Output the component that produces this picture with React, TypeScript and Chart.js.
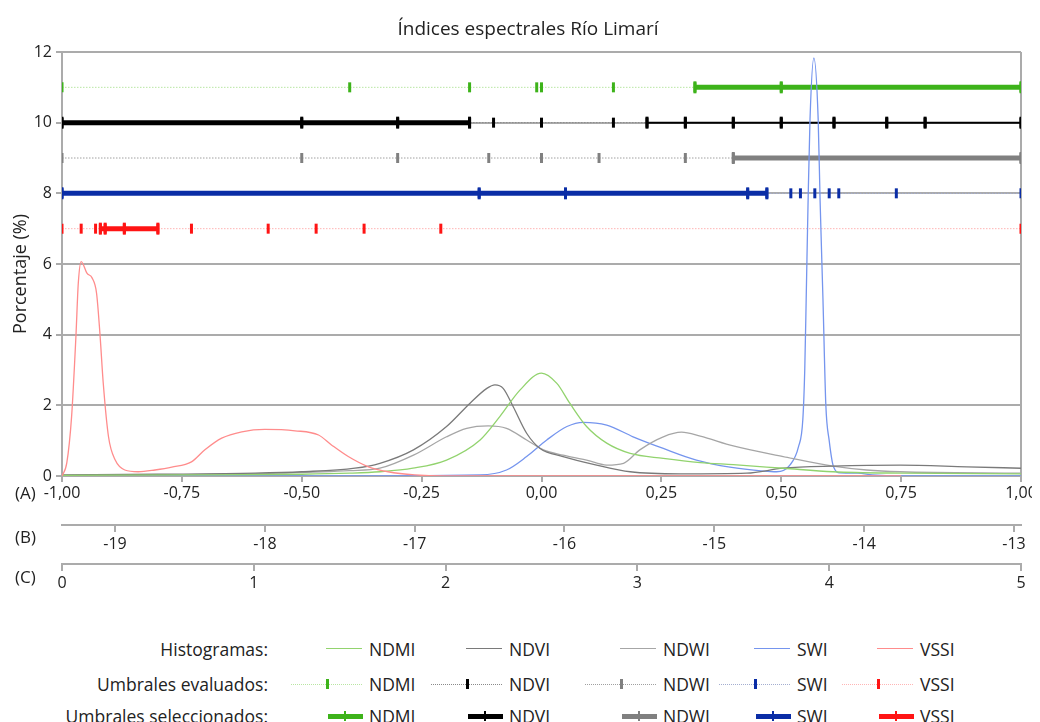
import React, { useEffect, useRef } from 'react';
import { Chart, registerables } from 'chart.js';

Chart.register(...registerables);

const FONT = "'Open Sans', sans-serif";
const TEXT = '#222222';
const GRID = '#ababab';

// ---------- Title / axis texts ----------
const chartTitle = 'Índices espectrales Río Limarí';
const yTitle = 'Porcentaje (%)';
const axisNames = ['(A)', '(B)', '(C)'];

// ---------- Axis ranges ----------
const axisAMin = -1;
const axisAMax = 1;
const axisAStep = 0.25;
const axisBMin = -19.354;
const axisBMax = -12.953;
const axisBStep = 1;
const axisCMin = 0;
const axisCMax = 5;
const axisCStep = 1;
const yMin = 0;
const yMax = 12;
const yStep = 2;

// ---------- Histograms ----------
const ndmiX = [-1.0, -0.75, -0.5, -0.4, -0.337, -0.268, -0.198, -0.128, -0.087, -0.045, 0.0, 0.032, 0.059, 0.094, 0.136, 0.185, 0.254, 0.331, 0.4, 0.504, 0.608, 0.748, 1.0];
const ndmiY = [0.02, 0.03, 0.05, 0.08, 0.12, 0.22, 0.45, 1.02, 1.68, 2.43, 2.91, 2.62, 2.06, 1.4, 0.93, 0.64, 0.5, 0.38, 0.32, 0.22, 0.12, 0.08, 0.06];

const ndviX = [-1.0, -0.8, -0.597, -0.5, -0.389, -0.337, -0.267, -0.198, -0.149, -0.114, -0.097, -0.08, -0.059, -0.031, -0.003, 0.045, 0.115, 0.185, 0.289, 0.428, 0.504, 0.608, 0.748, 0.887, 1.0];
const ndviY = [0.03, 0.05, 0.08, 0.12, 0.22, 0.36, 0.74, 1.4, 2.06, 2.48, 2.58, 2.48, 1.96, 1.21, 0.78, 0.55, 0.31, 0.12, 0.06, 0.08, 0.22, 0.28, 0.31, 0.26, 0.22];

const ndwiX = [-1.0, -0.75, -0.55, -0.4, -0.337, -0.267, -0.198, -0.156, -0.111, -0.073, -0.031, 0.004, 0.045, 0.094, 0.136, 0.171, 0.205, 0.254, 0.292, 0.331, 0.4, 0.504, 0.608, 0.678, 0.748, 1.0];
const ndwiY = [0.02, 0.04, 0.08, 0.15, 0.22, 0.59, 1.11, 1.35, 1.42, 1.35, 1.02, 0.74, 0.59, 0.45, 0.31, 0.36, 0.74, 1.11, 1.24, 1.13, 0.85, 0.55, 0.28, 0.17, 0.12, 0.08];

const swiX = [-1.0, -0.5, -0.128, -0.073, -0.031, 0.011, 0.053, 0.087, 0.136, 0.191, 0.254, 0.323, 0.393, 0.463, 0.49, 0.518, 0.536, 0.545, 0.549, 0.552, 0.556, 0.56, 0.568, 0.577, 0.581, 0.587, 0.593, 0.6, 0.609, 0.623, 0.66, 0.69, 0.75, 1.0];
const swiY = [0.0, 0.0, 0.03, 0.17, 0.55, 1.02, 1.4, 1.52, 1.44, 1.11, 0.78, 0.45, 0.25, 0.14, 0.12, 0.31, 0.83, 1.6, 3.0, 5.0, 7.8, 10.1, 11.83, 10.1, 7.8, 5.0, 2.0, 1.0, 0.26, 0.09, 0.08, 0.03, 0.0, 0.0];

const vssiX = [-1.0, -0.99, -0.98, -0.971, -0.966, -0.96, -0.948, -0.937, -0.928, -0.921, -0.914, -0.903, -0.889, -0.869, -0.841, -0.806, -0.771, -0.73, -0.702, -0.667, -0.625, -0.577, -0.514, -0.465, -0.438, -0.403, -0.361, -0.32, -0.264, -0.2, 0.0, 0.25, 0.5, 0.75];
const vssiY = [0.0, 0.37, 1.68, 3.94, 5.46, 6.07, 5.74, 5.6, 5.18, 4.05, 2.63, 1.11, 0.45, 0.17, 0.12, 0.17, 0.25, 0.4, 0.74, 1.07, 1.25, 1.32, 1.28, 1.16, 0.88, 0.55, 0.26, 0.12, 0.03, 0.0, 0.0, 0.0, 0.0, 0.0];

// ---------- Thresholds (row levels on the y axis) ----------
const rowNDMI = 11;
const rowNDVI = 10;
const rowNDWI = 9;
const rowSWI = 8;
const rowVSSI = 7;

const ndmiEvaluated = [-1.0, -0.4, -0.15, -0.01, 0.0, 0.15, 0.32, 0.5, 1.0];
const ndmiSelected = [0.32, 0.5, 1.0];

const ndviEvaluated = [-1.0, -0.5, -0.3, -0.15, -0.1, 0.0, 0.15, 0.22, 0.3, 0.4, 0.5, 0.61, 0.72, 0.8, 1.0];
const ndviSelected = [-1.0, -0.5, -0.3, -0.15];
const ndviUpperRange = [0.22, 0.3, 0.4, 0.5, 0.61, 0.72, 0.8, 1.0];

const ndwiEvaluated = [-1.0, -0.5, -0.3, -0.11, 0.0, 0.12, 0.3, 0.4, 1.0];
const ndwiSelected = [0.4, 1.0];

const swiEvaluated = [-1.0, -0.13, 0.05, 0.43, 0.47, 0.52, 0.54, 0.57, 0.6, 0.62, 0.74, 1.0];
const swiSelected = [-1.0, -0.13, 0.05, 0.43, 0.47];

const vssiEvaluated = [-1.0, -0.96, -0.93, -0.92, -0.91, -0.87, -0.8, -0.73, -0.57, -0.47, -0.37, -0.21, 1.0];
const vssiSelected = [-0.92, -0.91, -0.87, -0.8];

// ---------- Styles ----------
const seriesNames = ['NDMI', 'NDVI', 'NDWI', 'SWI', 'VSSI'];
const histColors = ['#92d36e', '#7a7a7a', '#a6a6a6', '#7595ee', '#ff8c8c'];
const evalLineColors = ['#b9e6a3', '#8a8a8a', '#a0a0a0', '#a4aed0', '#ffb5b5'];
const tickColors = ['#3db31a', '#000000', '#808080', '#0a2da6', '#ff1414'];
const legendRowLabels = ['Histogramas:', 'Umbrales evaluados:', 'Umbrales seleccionados:'];

const pts = (xs: number[], ys: number[]) => xs.map((x, i) => ({ x, y: ys[i] }));
const row = (xs: number[], y: number) => xs.map((x) => ({ x, y }));

function histDs(label: string, xs: number[], ys: number[], color: string) {
  return {
    label,
    data: pts(xs, ys),
    borderColor: color,
    backgroundColor: color,
    borderWidth: 1.3,
    pointRadius: 0,
    pointHoverRadius: 0,
    cubicInterpolationMode: 'monotone',
    tension: 0.4,
    fill: false,
  };
}

function evalDs(label: string, xs: number[], y: number, lineColor: string, tickColor: string) {
  return {
    label,
    data: row(xs, y),
    borderColor: lineColor,
    borderWidth: 1,
    borderDash: [1.5, 1.5],
    pointStyle: 'line',
    pointRotation: 90,
    pointRadius: 5,
    pointHoverRadius: 5,
    pointBorderWidth: 3,
    pointBorderColor: tickColor,
    pointBackgroundColor: tickColor,
    tension: 0,
    fill: false,
  };
}

function selDs(label: string, xs: number[], y: number, color: string, width = 5) {
  return {
    label,
    data: row(xs, y),
    borderColor: color,
    borderWidth: width,
    pointStyle: 'line',
    pointRotation: 90,
    pointRadius: 6,
    pointHoverRadius: 6,
    pointBorderWidth: 3,
    pointBorderColor: color,
    pointBackgroundColor: color,
    tension: 0,
    fill: false,
  };
}

const framePlugin = {
  id: 'frameAndTexts',
  beforeDatasetsDraw(chart: any) {
    const { ctx, chartArea } = chart;
    ctx.save();
    ctx.strokeStyle = GRID;
    ctx.lineWidth = 2;
    ctx.beginPath();
    ctx.moveTo(chartArea.right, chartArea.top);
    ctx.lineTo(chartArea.right, chartArea.bottom);
    ctx.stroke();
    ctx.restore();
  },
  afterDraw(chart: any) {
    const { ctx, chartArea } = chart;
    ctx.save();
    ctx.fillStyle = TEXT;
    ctx.textBaseline = 'middle';
    // chart title
    ctx.font = `19px ${FONT}`;
    ctx.textAlign = 'center';
    ctx.fillText(chartTitle, 520, 21.5);
    // y axis title
    ctx.save();
    ctx.font = `18px ${FONT}`;
    ctx.translate(12.5, (chartArea.top + chartArea.bottom) / 2 + 10);
    ctx.rotate(-Math.PI / 2);
    ctx.fillText(yTitle, 0, 0);
    ctx.restore();
    // axis names
    ctx.font = `17px ${FONT}`;
    ctx.textAlign = 'left';
    ctx.fillText(axisNames[0], 7, chart.scales.x.top + 18);
    ctx.fillText(axisNames[1], 7, chart.scales.xB.top + 13);
    ctx.fillText(axisNames[2], 7, chart.scales.xC.top + 14);
    ctx.restore();
  },
};

function ChartCanvas() {
  const ref = useRef<HTMLCanvasElement | null>(null);
  useEffect(() => {
    if (!ref.current) return;
    const tickFont = { family: FONT, size: 16 };
    const chart = new Chart(ref.current, {
      type: 'line',
      data: {
        datasets: [
          histDs('VSSI', vssiX, vssiY, histColors[4]),
          histDs('NDMI', ndmiX, ndmiY, histColors[0]),
          histDs('NDVI', ndviX, ndviY, histColors[1]),
          histDs('NDWI', ndwiX, ndwiY, histColors[2]),
          histDs('SWI', swiX, swiY, histColors[3]),
          selDs('NDMI sel', ndmiSelected, rowNDMI, tickColors[0]),
          selDs('NDVI sel', ndviSelected, rowNDVI, tickColors[1]),
          selDs('NDVI upper', ndviUpperRange, rowNDVI, tickColors[1], 2),
          selDs('NDWI sel', ndwiSelected, rowNDWI, tickColors[2]),
          selDs('SWI sel', swiSelected, rowSWI, tickColors[3]),
          selDs('VSSI sel', vssiSelected, rowVSSI, tickColors[4]),
          evalDs('NDMI eval', ndmiEvaluated, rowNDMI, evalLineColors[0], tickColors[0]),
          evalDs('NDVI eval', ndviEvaluated, rowNDVI, evalLineColors[1], tickColors[1]),
          evalDs('NDWI eval', ndwiEvaluated, rowNDWI, evalLineColors[2], tickColors[2]),
          evalDs('SWI eval', swiEvaluated, rowSWI, evalLineColors[3], tickColors[3]),
          evalDs('VSSI eval', vssiEvaluated, rowVSSI, evalLineColors[4], tickColors[4]),
        ] as any,
      },
      options: {
        animation: false,
        responsive: true,
        maintainAspectRatio: false,
        events: [],
        layout: { padding: { left: 0, right: 11, top: 44, bottom: 0 } },
        plugins: {
          legend: { display: false },
          tooltip: { enabled: false },
          title: { display: false },
        },
        scales: {
          x: {
            type: 'linear',
            position: 'bottom',
            weight: 0,
            min: axisAMin,
            max: axisAMax,
            ticks: {
              stepSize: axisAStep,
              autoSkip: false,
              maxRotation: 0,
              color: TEXT,
              font: tickFont,
              padding: 2,
              callback: (v: any) => Number(v).toFixed(2).replace('.', ',').replace('-0,00', '0,00'),
            },
            grid: { drawOnChartArea: false, color: GRID, lineWidth: 2, tickLength: 6 },
            border: { color: GRID, width: 2 },
            afterFit: (s: any) => { s.height = 49; s.paddingLeft = 0; s.paddingRight = 0; },
          },
          xB: {
            type: 'linear',
            position: 'bottom',
            weight: 1,
            min: axisBMin,
            max: axisBMax,
            ticks: {
              stepSize: axisBStep,
              includeBounds: false,
              autoSkip: false,
              maxRotation: 0,
              color: TEXT,
              font: tickFont,
              padding: 3,
            },
            grid: { drawOnChartArea: false, color: GRID, lineWidth: 2, tickLength: 7 },
            border: { color: GRID, width: 2 },
            afterFit: (s: any) => { s.height = 39; s.paddingLeft = 0; s.paddingRight = 0; },
          },
          xC: {
            type: 'linear',
            position: 'bottom',
            weight: 2,
            min: axisCMin,
            max: axisCMax,
            ticks: {
              stepSize: axisCStep,
              includeBounds: false,
              autoSkip: false,
              maxRotation: 0,
              color: TEXT,
              font: tickFont,
              padding: 3,
            },
            grid: { drawOnChartArea: false, color: GRID, lineWidth: 2, tickLength: 7 },
            border: { color: GRID, width: 2 },
            afterFit: (s: any) => { s.height = 36; s.paddingLeft = 0; s.paddingRight = 0; },
          },
          y: {
            type: 'linear',
            position: 'left',
            min: yMin,
            max: yMax,
            ticks: { stepSize: yStep, color: TEXT, font: { family: FONT, size: 16 }, padding: 4 },
            grid: { color: GRID, lineWidth: 2, tickLength: 6 },
            border: { color: GRID, width: 2 },
            title: { display: false },
            afterFit: (s: any) => { s.width = 54; s.paddingTop = 0; },
          },
        },
      } as any,
      plugins: [framePlugin],
    });
    return () => chart.destroy();
  }, []);
  return (
    <div style={{ position: 'absolute', left: 0, top: 0, width: 1024, height: 592 }}>
      <canvas ref={ref} />
    </div>
  );
}

// Legend layout (container coordinates)
const legendTextLeft = [361, 501, 655, 789, 912];
const legendRowCenter = [641, 676, 708];
const legendLabelRight = 260;

function Legend() {
  const items: any[] = [];
  const txt = (top: number): any => ({
    position: 'absolute',
    top: top - 10,
    height: 20,
    lineHeight: '20px',
    fontSize: 17.5,
    whiteSpace: 'nowrap',
    color: TEXT,
  });
  legendRowLabels.forEach((lab, r) => {
    items.push(
      <div key={'lab' + r} style={{ ...txt(legendRowCenter[r]), right: 1024 - legendLabelRight }}>
        {lab}
      </div>
    );
  });
  seriesNames.forEach((name, i) => {
    const tl = legendTextLeft[i];
    legendRowCenter.forEach((cy, r) => {
      items.push(
        <div key={'t' + i + r} style={{ ...txt(cy), left: tl }}>
          {name}
        </div>
      );
    });
    // histogram sample
    items.push(
      <div key={'h' + i} style={{ position: 'absolute', left: tl - 43, width: 36, top: legendRowCenter[0] - 0.7, height: 0, borderTop: `1.4px solid ${histColors[i]}` }} />
    );
    // evaluated sample
    items.push(
      <div key={'e' + i} style={{ position: 'absolute', left: tl - 78, width: 71, top: legendRowCenter[1], height: 0, borderTop: `1px dotted ${evalLineColors[i]}` }} />
    );
    items.push(
      <div key={'et' + i} style={{ position: 'absolute', left: tl - 43, width: 3, top: legendRowCenter[1] - 5, height: 10, background: tickColors[i] }} />
    );
    // selected sample
    items.push(
      <div key={'s' + i} style={{ position: 'absolute', left: tl - 41, width: 35, top: legendRowCenter[2] - 2.5, height: 5, background: tickColors[i] }} />
    );
    items.push(
      <div key={'st' + i} style={{ position: 'absolute', left: tl - 25, width: 2, top: legendRowCenter[2] - 5, height: 10, background: tickColors[i] }} />
    );
  });
  return <>{items}</>;
}

export default function App() {
  useEffect(() => {
    document.documentElement.style.overflow = 'hidden';
    document.body.style.overflow = 'hidden';
  }, []);
  return (
    <div style={{ position: 'relative', width: 1024, height: 714, overflow: 'hidden', fontFamily: FONT, color: TEXT }}>
      <ChartCanvas />
      <Legend />
    </div>
  );
}
